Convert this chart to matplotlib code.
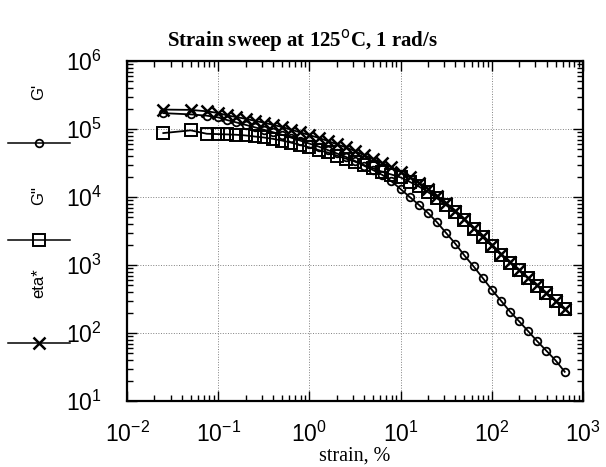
import matplotlib
matplotlib.use('Agg')
import matplotlib.pyplot as plt
from matplotlib.lines import Line2D

# strain sweep at 125 C, 1 rad/s
strain = [0.025, 0.05, 0.075, 0.1, 0.126, 0.158, 0.2, 0.251, 0.316, 0.398, 0.501,
          0.631, 0.794, 1.0, 1.26, 1.58, 2.0, 2.51, 3.16, 3.98, 5.01, 6.31, 7.94,
          10.0, 12.6, 15.8, 20.0, 25.1, 31.6, 39.8, 50.1, 63.1, 79.4, 100, 126,
          158, 200, 251, 316, 398, 501, 631]

g1 = [1.71e5, 1.64e5, 1.57e5, 1.48e5, 1.35e5, 1.25e5, 1.15e5, 1.06e5, 9.77e4, 8.97e4,
      8.22e4, 7.46e4, 6.75e4, 6.10e4, 5.52e4, 4.92e4, 4.37e4, 3.89e4, 3.39e4, 2.88e4,
      2.48e4, 2.11e4, 1.70e4, 1.31e4, 1.00e4, 7.71e3, 5.82e3, 4.25e3, 2.95e3, 2.06e3,
      1.38e3, 955, 646, 434, 299, 207, 148, 106, 75.3, 54.6, 39.5, 26.9]

g2 = [8.71e4, 9.55e4, 8.51e4, 8.41e4, 8.32e4, 8.22e4, 8.04e4, 7.76e4, 7.50e4, 7.16e4,
      6.76e4, 6.31e4, 5.82e4, 5.37e4, 4.90e4, 4.52e4, 4.07e4, 3.67e4, 3.31e4, 2.95e4,
      2.63e4, 2.34e4, 2.14e4, 1.94e4, 1.67e4, 1.43e4, 1.18e4, 9.57e3, 7.57e3, 5.97e3,
      4.59e3, 3.42e3, 2.55e3, 1.90e3, 1.41e3, 1.08e3, 838, 637, 495, 385, 292, 222]

eta = [1.93e5, 1.91e5, 1.82e5, 1.72e5, 1.58e5, 1.50e5, 1.41e5, 1.32e5, 1.24e5, 1.15e5,
       1.07e5, 9.77e4, 8.91e4, 8.13e4, 7.41e4, 6.68e4, 5.96e4, 5.37e4, 4.73e4, 4.12e4,
       3.63e4, 3.16e4, 2.75e4, 2.34e4, 1.95e4, 1.62e4, 1.32e4, 1.05e4, 8.13e3, 6.31e3,
       4.79e3, 3.55e3, 2.63e3, 1.95e3, 1.45e3, 1.10e3, 851, 646, 501, 389, 295, 224]

labels = ["G'", 'G"', 'eta*']

plt.rcParams['font.family'] = ['Liberation Sans', 'DejaVu Sans']

fig = plt.figure(figsize=(6.06, 4.67), dpi=100)
ax = fig.add_axes([0.2096, 0.1413, 0.7524, 0.7281])

ax.plot(strain, g1, '-o', color='k', lw=1.3, ms=5.5, mfc='none', mew=1.3)
ax.plot(strain, g2, '-s', color='k', lw=1.3, ms=8, mfc='none', mew=1.4)
ax.plot(strain, eta, '-x', color='k', lw=1.3, ms=8, mew=1.8)

ax.set_xscale('log')
ax.set_yscale('log')
ax.set_xlim(1e-2, 1e3)
ax.set_ylim(1e1, 1e6)
ax.grid(True, which='major', linestyle=':', color='gray', lw=0.7)
ax.tick_params(which='both', direction='in', top=True, right=True, labelsize=16.5)
ax.tick_params(which='major', length=7, width=1)
ax.tick_params(which='minor', length=4, width=1)
ax.tick_params(axis='y', pad=18)
ax.tick_params(axis='x', pad=15)
for s in ax.spines.values():
    s.set_linewidth(1.6)

fig.text(0.5, 0.913, r'Strain sweep at 125$^{\rm o}$C, 1 rad/s', ha='center', va='center',
         fontsize=15, fontweight='bold', family='Liberation Serif')
fig.text(0.586, 0.024, 'strain, %', ha='center', va='center', fontsize=14.5,
         family='Liberation Serif')

# legend down the left side
leg_y = [0.694, 0.486, 0.266]
lab_y = [0.803, 0.582, 0.394]
markers = [('o', 5.5, 1.3), ('s', 8, 1.4), ('x', 8, 1.8)]
for (m, ms, mew), ly, ty, lab in zip(markers, leg_y, lab_y, labels):
    fig.add_artist(Line2D([0.013, 0.064, 0.116], [ly, ly, ly], transform=fig.transFigure,
                          color='k', lw=1.1, marker=m, ms=ms, mfc='none', mew=mew,
                          markevery=[1]))
    fig.text(0.064, ty, lab, rotation=90, ha='center', va='center', fontsize=12)

fig.savefig('out.png', dpi=100)
